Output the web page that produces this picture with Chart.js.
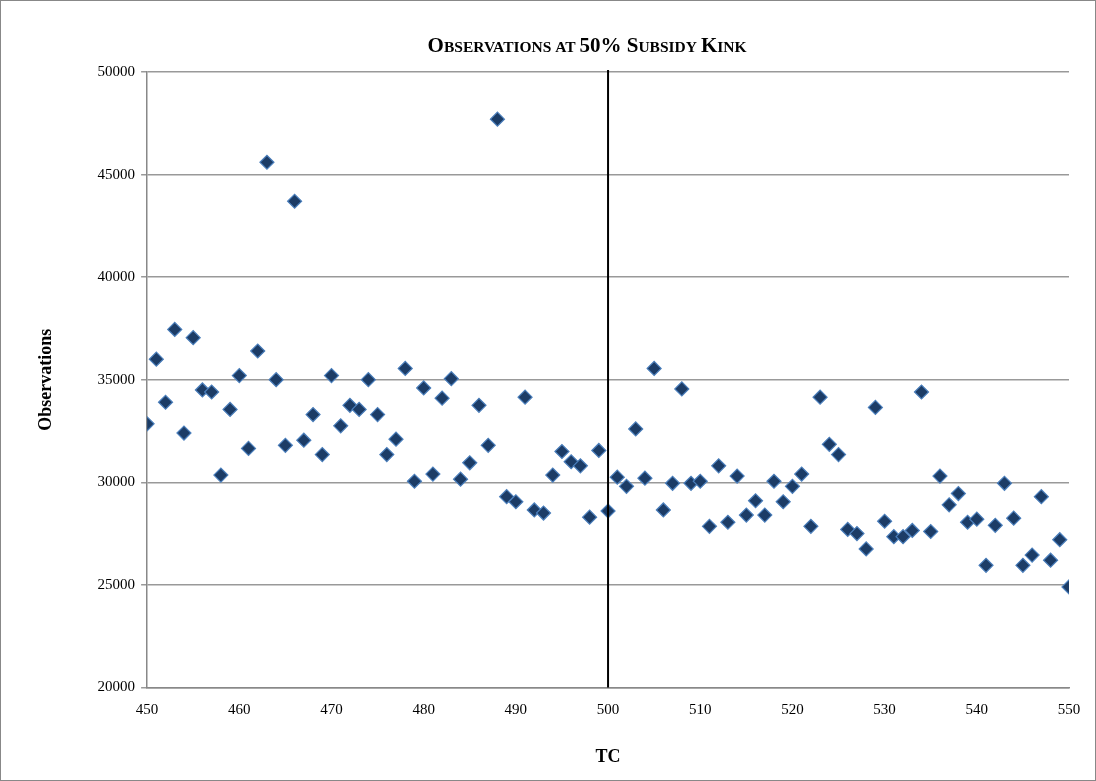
<!DOCTYPE html>
<html><head><meta charset="utf-8">
<script src="https://cdn.jsdelivr.net/npm/chart.js@4.4.0/dist/chart.umd.min.js"></script>
<style>html,body{margin:0;padding:0;background:#fff}#w{width:1096px;height:781px;position:relative;box-sizing:border-box;border:1px solid #888}</style>
</head><body><div id="w"><canvas id="c"></canvas></div>
<script>
const tc = [];
for (let i = 450; i <= 550; i++) tc.push(i);
const observations = [32850,36000,33900,37450,32400,37050,34500,34400,30350,33550,
35200,31650,36400,45600,35000,31800,43700,32050,33300,31350,
35200,32750,33750,33550,35000,33300,31350,32100,35550,30050,
34600,30400,34100,35050,30150,30950,33750,31800,47700,29300,
29050,34150,28650,28500,30350,31500,31000,30800,28300,31550,
28600,30250,29800,32600,30200,35550,28650,29950,34550,29950,
30050,27850,30800,28050,30300,28400,29100,28400,30050,29050,
29800,30400,27850,34150,31850,31350,27700,27500,26750,33650,
28100,27350,27350,27650,34400,27600,30300,28900,29450,28050,
28200,25950,27900,29950,28250,25950,26450,29300,26200,27200,24900];
const kinkX = 500;
const xTicks = [450,460,470,480,490,500,510,520,530,540,550];
const yTicks = [20000,25000,30000,35000,40000,45000,50000];

const titleParts = [["O",21],["BSERVATIONS AT ",15.5],["50% S",21],["UBSIDY ",15.5],["K",21],["INK",15.5]];
const serif = "'Liberation Serif','Times New Roman',serif";

const overlay = {
  id:'overlay',
  afterDatasetsDraw(ch){
    const {ctx, scales:{x,y}} = ch;
    const px = x.getPixelForValue(kinkX);
    ctx.save();
    ctx.strokeStyle='#000'; ctx.lineWidth=2;
    ctx.beginPath(); ctx.moveTo(px, y.getPixelForValue(y.max)-2); ctx.lineTo(px, y.getPixelForValue(y.min)); ctx.stroke();
    ctx.restore();
  },
  afterDraw(ch){
    const ctx = ch.ctx;
    ctx.save();
    ctx.fillStyle='#000'; ctx.textBaseline='alphabetic';
    let total=0;
    titleParts.forEach(([t,s])=>{ctx.font=`bold ${s}px ${serif}`; total+=ctx.measureText(t).width;});
    let xx = (ch.chartArea.left+ch.chartArea.right)/2 - 21 - total/2;
    titleParts.forEach(([t,s])=>{ctx.font=`bold ${s}px ${serif}`; ctx.fillText(t,xx,51); xx+=ctx.measureText(t).width;});
    ctx.restore();
  }
};

new Chart(document.getElementById('c'), {
  type:'scatter',
  data:{datasets:[{data:tc.map((v,i)=>({x:v,y:observations[i]})),
    pointStyle:'rectRot', pointRadius:7, pointHoverRadius:7,
    backgroundColor:'#1c3c66', borderColor:'#4a7ebb', borderWidth:1.2}]},
  options:{
    responsive:true, maintainAspectRatio:false, animation:false,
    layout:{padding:{top:71,right:26,bottom:8,left:31}},
    plugins:{legend:{display:false},tooltip:{enabled:false}},
    scales:{
      x:{type:'linear',min:450,max:550,
        afterBuildTicks(s){s.ticks=xTicks.map(v=>({value:v}));},
        grid:{display:false,drawTicks:true},
        border:{color:'#888',width:1.5},
        ticks:{color:'#000',font:{family:serif,size:15},padding:6},
        title:{display:true,text:'TC',color:'#000',font:{family:serif,size:18,weight:'bold'},padding:{top:21}}},
      y:{min:20000,max:50000,
        afterBuildTicks(s){s.ticks=yTicks.map(v=>({value:v}));},
        grid:{color:'#999',lineWidth:1.5,tickLength:6},
        border:{color:'#888',width:1.5},
        ticks:{color:'#000',font:{family:serif,size:15},padding:6,callback:v=>String(v)},
        title:{display:true,text:'Observations',color:'#000',font:{family:serif,size:18,weight:'bold'},padding:{bottom:34}}}
    }
  },
  plugins:[overlay]
});
</script></body></html>
